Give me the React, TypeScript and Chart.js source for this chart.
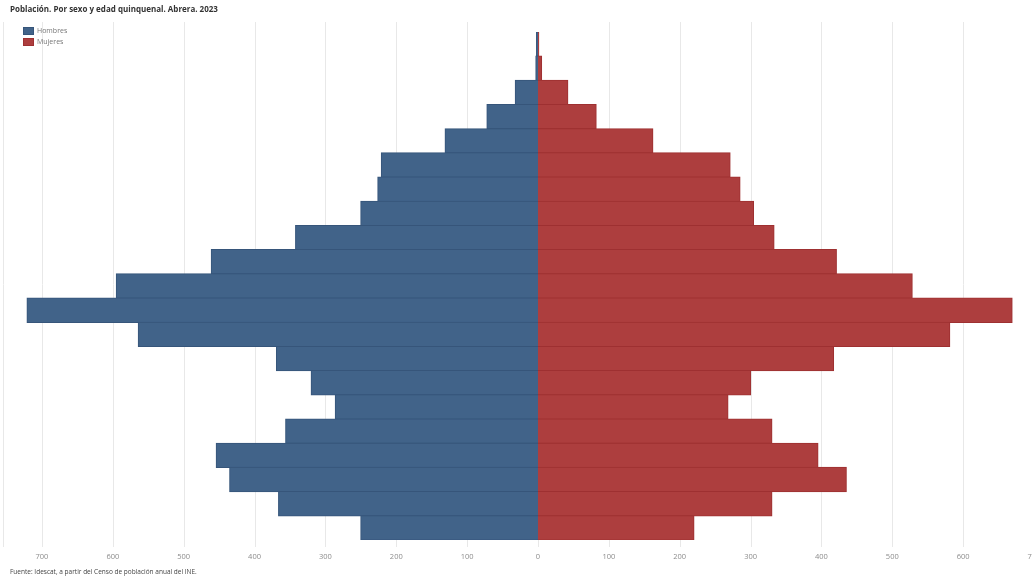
import React, { useEffect, useRef } from "react";
import { Chart, registerables } from "chart.js";

Chart.register(...registerables);

const ageGroups = [
  "100 y más", "95-99", "90-94", "85-89", "80-84", "75-79", "70-74", "65-69",
  "60-64", "55-59", "50-54", "45-49", "40-44", "35-39", "30-34", "25-29",
  "20-24", "15-19", "10-14", "5-9", "0-4",
];

const hombres = [
  2, 3, 32, 72, 131, 221, 226, 250, 342, 461, 595, 721, 564, 369, 320, 286,
  356, 454, 435, 366, 250,
];

const mujeres = [
  1, 5, 42, 82, 162, 271, 285, 304, 333, 421, 528, 669, 581, 417, 300, 268,
  330, 395, 435, 330, 220,
];

const xTickValues = [-700, -600, -500, -400, -300, -200, -100, 0, 100, 200, 300, 400, 500, 600, 700];

const FONT = "'Open Sans', 'Noto Sans', sans-serif";
const BLUE = "#416389";
const BLUE_BORDER = "#36557a";
const RED = "#ad3e3e";
const RED_BORDER = "#9e3031";

const gridPlugin = {
  id: "customGrid",
  beforeDatasetsDraw(chart: any) {
    const { ctx, chartArea } = chart;
    const xs = chart.scales.x;
    ctx.save();
    ctx.strokeStyle = "#e8e8e8";
    ctx.lineWidth = 1;
    const top = chartArea.top - 10;
    const bottom = chartArea.bottom + 7;
    xs.ticks.forEach((t: any) => {
      const px = Math.round(xs.getPixelForValue(t.value)) + 0.5;
      ctx.beginPath();
      ctx.moveTo(px, t.value === 0 ? chartArea.bottom : top);
      ctx.lineTo(px, bottom);
      ctx.stroke();
    });
    const lx = Math.round(chartArea.left) + 0.5;
    ctx.beginPath();
    ctx.moveTo(lx, top);
    ctx.lineTo(lx, bottom);
    ctx.stroke();
    ctx.restore();
  },
};

export default function App() {
  const canvasRef = useRef<HTMLCanvasElement | null>(null);

  useEffect(() => {
    if (!canvasRef.current) return;
    const chart = new Chart(canvasRef.current, {
      type: "bar",
      data: {
        labels: ageGroups,
        datasets: [
          {
            label: "Hombres",
            data: hombres.map((v) => -v),
            backgroundColor: BLUE,
            borderColor: BLUE_BORDER,
            borderWidth: 1,
            inflateAmount: 0.6,
            barPercentage: 1,
            categoryPercentage: 1,
            stack: "p",
          },
          {
            label: "Mujeres",
            data: mujeres,
            backgroundColor: RED,
            borderColor: RED_BORDER,
            borderWidth: 1,
            inflateAmount: 0.6,
            barPercentage: 1,
            categoryPercentage: 1,
            stack: "p",
          },
        ],
      },
      options: {
        indexAxis: "y",
        animation: false,
        responsive: true,
        maintainAspectRatio: false,
        layout: { padding: { left: 3, right: 3, top: 32, bottom: 6 } },
        plugins: {
          legend: { display: false },
          title: { display: false },
          tooltip: { enabled: false },
        },
        scales: {
          x: {
            type: "linear",
            stacked: true,
            min: -755,
            max: 755,
            grid: { display: false, drawTicks: false },
            border: { display: false },
            afterBuildTicks(scale: any) {
              scale.ticks = xTickValues.map((v) => ({ value: v }));
            },
            ticks: {
              autoSkip: false,
              maxRotation: 0,
              padding: 12,
              color: "#8c8c8c",
              font: { family: FONT, size: 7.5 },
              callback: (v: any) => String(Math.abs(Number(v))),
            },
          },
          y: {
            stacked: true,
            display: false,
          },
        },
      },
      plugins: [gridPlugin],
    });
    return () => chart.destroy();
  }, []);

  const legendItem = (color: string, border: string, text: string, top: number) => (
    <div
      style={{
        position: "absolute",
        left: 23,
        top,
        display: "flex",
        alignItems: "center",
        fontFamily: FONT,
        fontSize: 7,
        color: "#777",
        lineHeight: "8px",
      }}
    >
      <span
        style={{
          display: "inline-block",
          width: 9,
          height: 6,
          background: color,
          border: `1px solid ${border}`,
          marginRight: 3,
        }}
      />
      {text}
    </div>
  );

  return (
    <div
      style={{
        position: "fixed",
        left: 0,
        top: 0,
        width: 1032,
        height: 579,
        overflow: "hidden",
        background: "#fff",
      }}
    >
      <div style={{ position: "absolute", left: 0, top: 0, width: 1076, height: 579 }}>
        <canvas ref={canvasRef} />
      </div>
      <div
        style={{
          position: "absolute",
          left: 10,
          top: 3,
          fontFamily: FONT,
          fontWeight: 700,
          fontSize: 8,
          color: "#333",
          whiteSpace: "nowrap",
        }}
      >
        Población. Por sexo y edad quinquenal. Abrera. 2023
      </div>
      {legendItem(BLUE, BLUE_BORDER, "Hombres", 27)}
      {legendItem(RED, RED_BORDER, "Mujeres", 38)}
      <div
        style={{
          position: "absolute",
          left: 10,
          top: 567,
          fontFamily: FONT,
          fontSize: 6.5,
          color: "#444",
          whiteSpace: "nowrap",
        }}
      >
        Fuente: Idescat, a partir del Censo de población anual del INE.
      </div>
    </div>
  );
}
